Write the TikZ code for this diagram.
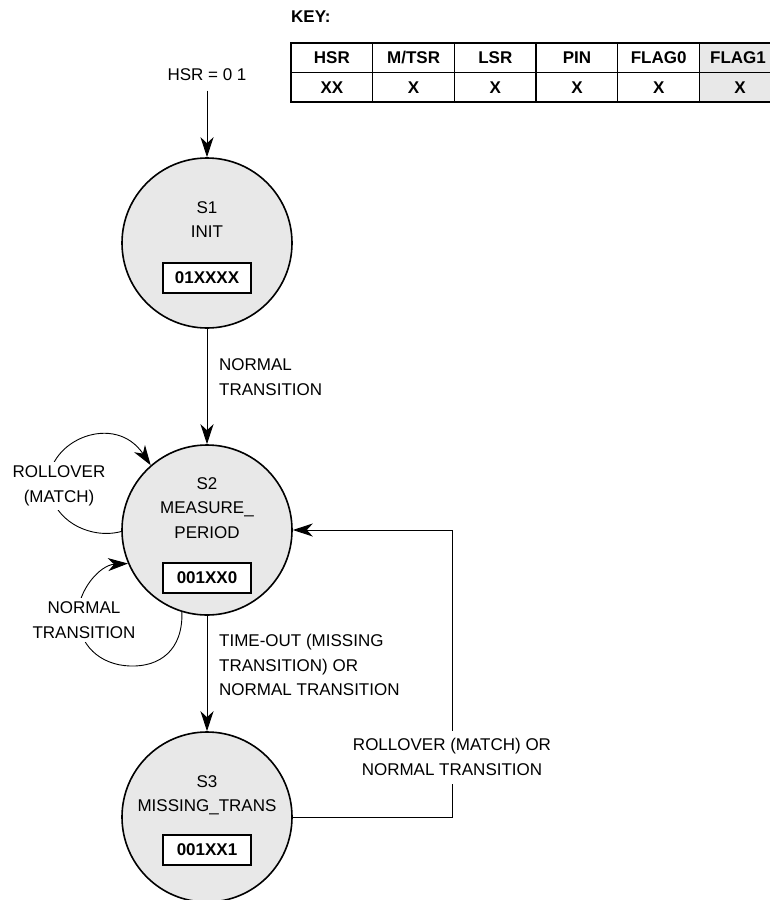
\documentclass[tikz,border=0pt]{standalone}
\usepackage{fontspec}
\setmainfont{Liberation Sans}
\usetikzlibrary{arrows.meta}

\tikzset{
  state/.style={circle, draw, line width=1.6pt, fill=gray!18, minimum size=170pt, inner sep=0pt},
  codebox/.style={draw, line width=1.3pt, fill=white, font=\fontsize{17}{24.5}\selectfont\bfseries,
    minimum width=88pt, minimum height=30pt, inner sep=0pt},
  trans/.style={line width=0.9pt, -{Stealth[length=20pt,width=13pt,inset=6pt]}},
  lbl/.style={align=left, inner sep=0pt},
  cutlbl/.style={align=center, fill=white, inner xsep=3pt, inner ysep=4pt},
  keycell/.style={font=\fontsize{17}{24.5}\selectfont\bfseries, inner sep=0pt},
}

\begin{document}
\begin{tikzpicture}[x=1pt, y=-1pt, font=\fontsize{17}{24.5}\selectfont]
\useasboundingbox (0,0) rectangle (769,900);

% key table
\node[keycell, anchor=west] (keylbl) at (291,17) {KEY:};
\fill[gray!18] (699.5,43) rectangle (781,102);
\draw[line width=1.3pt] (291,43) rectangle (781,102);
\draw[line width=1.3pt] (291,72.5) -- (781,72.5);
\draw[line width=1.3pt] (372.7,43) -- (372.7,102);
\draw[line width=1.3pt] (454.4,43) -- (454.4,102);
\draw[line width=1.3pt] (536.1,43) -- (536.1,102);
\draw[line width=1.3pt] (617.8,43) -- (617.8,102);
\draw[line width=1.3pt] (699.5,43) -- (699.5,102);
\node[keycell] (hsrhead) at (331.9,58) {HSR};
\node[keycell] (tsrhead) at (413.6,58) {M/TSR};
\node[keycell] (lsrhead) at (495.3,58) {LSR};
\node[keycell] (pinhead) at (577.0,58) {PIN};
\node[keycell] (flagahead) at (658.7,58) {FLAG0};
\node[keycell] (flagbhead) at (738,58) {FLAG1};
\node[keycell] (hsrval) at (331.9,87.5) {XX};
\node[keycell] (tsrval) at (413.6,87.5) {X};
\node[keycell] (lsrval) at (495.3,87.5) {X};
\node[keycell] (pinval) at (577.0,87.5) {X};
\node[keycell] (flagaval) at (658.7,87.5) {X};
\node[keycell] (flagbval) at (740,87.5) {X};

% states
\node[state] (s1) at (207,243) {};
\node[align=center] (s1txt) at (207,219.5) {S1\\INIT};
\node[codebox] (s1code) at (207,278) {01XXXX};

\node[state] (s2) at (207,530) {};
\node[align=center] (s2txt) at (207,508) {S2\\MEASURE\_\\PERIOD};
\node[codebox] (s2code) at (207,578) {001XX0};

\node[state] (s3) at (207,817) {};
\node[align=center] (s3txt) at (207,795) {S3\\MISSING\_TRANS};
\node[codebox] (s3code) at (207,850) {001XX1};

% transitions
\node (hsr) at (207,75) {HSR = 0 1};
\draw[trans, shorten <=6pt] (hsr) -- (s1);

\draw[trans] (s1) -- (s2);
\node[lbl, anchor=west] (s1s2lbl) at (219,377) {NORMAL\\TRANSITION};

\draw[trans] (s2) -- (s3);
\node[lbl, anchor=west] (s2s3lbl) at (219,665) {TIME-OUT (MISSING\\TRANSITION) OR\\NORMAL TRANSITION};

\coordinate (backlow) at (452,817);
\coordinate (backup) at (452,530);
\draw[trans] (s3) -- (backlow) -- (backup) -- (s2);
\node[cutlbl, inner ysep=8pt] (s3s2lbl) at (452,757) {ROLLOVER (MATCH) OR\\NORMAL TRANSITION};

% self loops on S2
\draw[trans] (s2.181) .. controls (90,540) and (50,520) .. (49,483)
  .. controls (48,440) and (115,412) .. (s2.131);
\node[cutlbl] (rolllbl) at (59,486) {ROLLOVER\\(MATCH)};

\draw[trans] (s2.253) .. controls (183,650) and (160,667) .. (130,666)
  .. controls (100,665) and (78,645) .. (78,615)
  .. controls (78,590) and (100,565) .. (s2.203);
\node[cutlbl] (normlbl) at (84,620) {NORMAL\\TRANSITION};
\end{tikzpicture}
\end{document}
